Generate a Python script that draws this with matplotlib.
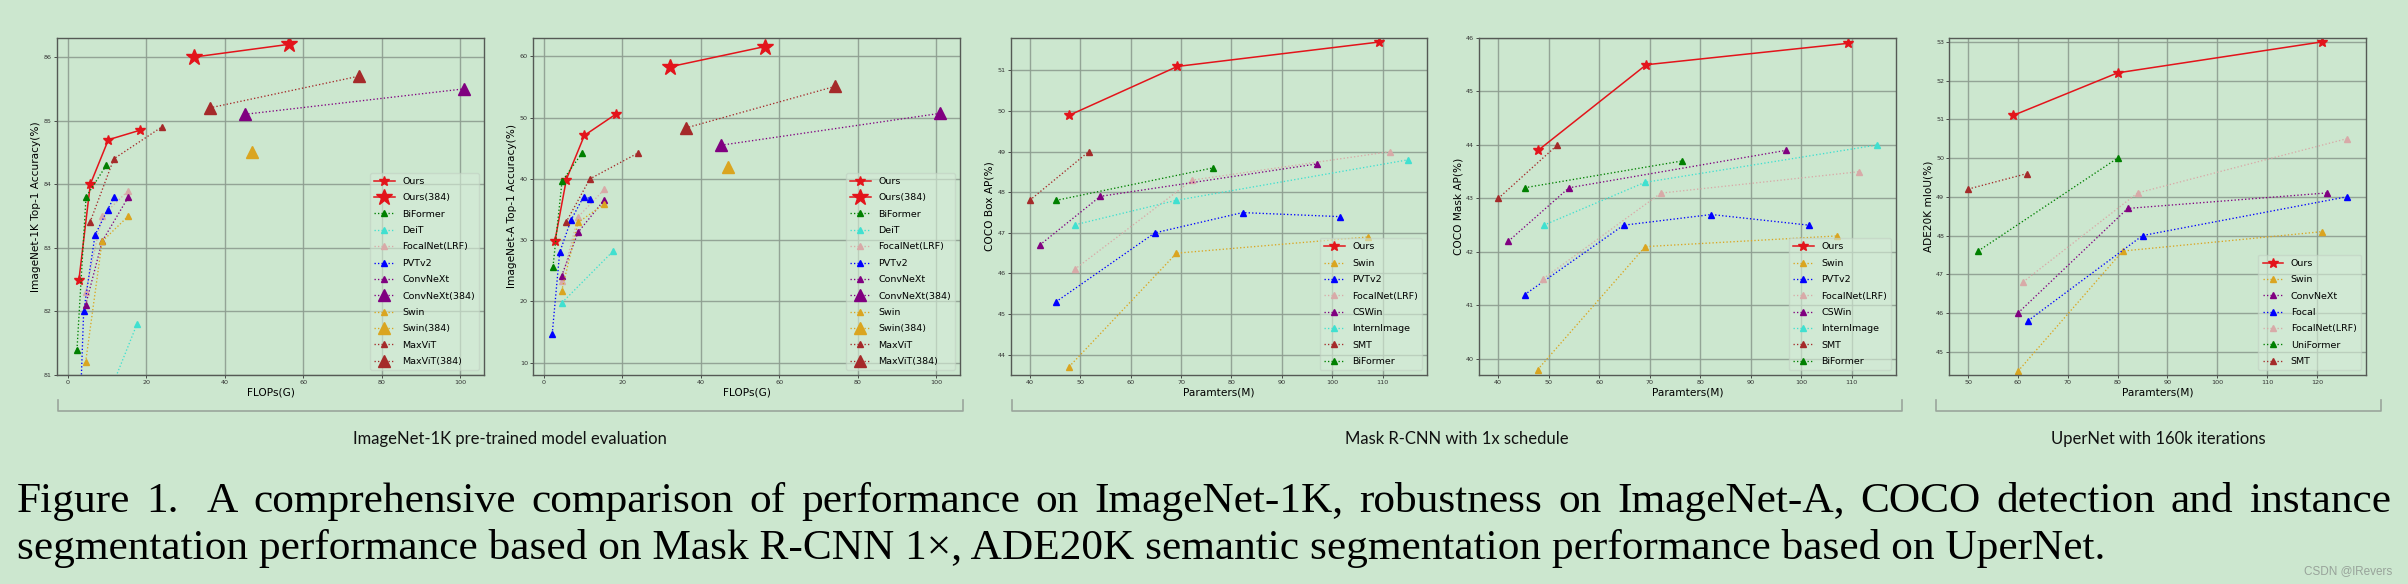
import matplotlib
matplotlib.use('Agg')
import matplotlib.pyplot as plt
from matplotlib.ticker import MultipleLocator
from matplotlib.lines import Line2D

BG = '#cce7cf'
GRID = '#8d9d90'
SPINE = '#555a55'

# ---------------- ImageNet-1K / ImageNet-A data ----------------
ours_flops = [2.8, 5.7, 10.3, 18.4]
ours_in1k = [82.5, 84.0, 84.7, 84.85]
ours_ina = [29.9, 39.9, 47.1, 50.6]
ours384_flops = [32.1, 56.3]
ours384_in1k = [86.0, 86.2]
ours384_ina = [58.3, 61.6]
biformer_flops = [2.3, 4.6, 9.8]
biformer_in1k = [81.4, 83.8, 84.3]
biformer_ina = [25.7, 39.6, 44.3]
deit_flops = [4.6, 17.6]
deit_in1k = [79.8, 81.8]
deit_ina = [19.8, 28.2]
focalnet_flops = [4.5, 8.7, 15.4]
focalnet_in1k = [82.3, 83.5, 83.9]
focalnet_ina = [23.4, 33.8, 38.3]
pvt_flops = [2.1, 4.0, 6.9, 10.1, 11.8]
pvt_in1k = [78.7, 82.0, 83.2, 83.6, 83.8]
pvt_ina = [14.7, 28.0, 33.3, 37.1, 36.8]
convnext_flops = [4.5, 8.7, 15.4]
convnext_in1k = [82.1, 83.1, 83.8]
convnext_ina = [24.2, 31.3, 36.6]
convnext384_flops = [45.1, 101.0]
convnext384_in1k = [85.1, 85.5]
convnext384_ina = [45.5, 50.7]
swin_flops = [4.5, 8.7, 15.4]
swin_in1k = [81.2, 83.1, 83.5]
swin_ina = [21.7, 32.9, 35.9]
swin384_flops = [47.0]
swin384_in1k = [84.5]
swin384_ina = [42.0]
maxvit_flops = [5.6, 11.7, 23.9]
maxvit_in1k = [83.4, 84.4, 84.9]
maxvit_ina = [32.9, 40.0, 44.2]
maxvit384_flops = [36.1, 74.2]
maxvit384_in1k = [85.2, 85.7]
maxvit384_ina = [48.3, 55.1]

# ---------------- COCO (Mask R-CNN 1x) data ----------------
c_ours_p = [47.9, 69.3, 109.2]
c_ours_box = [49.9, 51.1, 51.7]
c_ours_mask = [43.9, 45.5, 45.9]
c_swin_p = [47.8, 69.1, 107.1]
c_swin_box = [43.7, 46.5, 46.9]
c_swin_mask = [39.8, 42.1, 42.3]
c_pvt_p = [45.2, 64.8, 82.2, 101.6]
c_pvt_box = [45.3, 47.0, 47.5, 47.4]
c_pvt_mask = [41.2, 42.5, 42.7, 42.5]
c_focal_p = [48.9, 72.2, 111.4]
c_focal_box = [46.1, 48.3, 49.0]
c_focal_mask = [41.5, 43.1, 43.5]
c_cswin_p = [42.0, 54.0, 97.0]
c_cswin_box = [46.7, 47.9, 48.7]
c_cswin_mask = [42.2, 43.2, 43.9]
c_intern_p = [49.0, 69.0, 115.0]
c_intern_box = [47.2, 47.8, 48.8]
c_intern_mask = [42.5, 43.3, 44.0]
c_smt_p = [40.0, 51.7]
c_smt_box = [47.8, 49.0]
c_smt_mask = [43.0, 44.0]
c_bif_p = [45.2, 76.3]
c_bif_box = [47.8, 48.6]
c_bif_mask = [43.2, 43.7]

# ---------------- ADE20K (UperNet) data ----------------
a_ours_p = [59.0, 80.0, 121.0]
a_ours_miou = [51.1, 52.2, 53.0]
a_swin_p = [60.0, 81.0, 121.0]
a_swin_miou = [44.5, 47.6, 48.1]
a_convnext_p = [60.0, 82.0, 122.0]
a_convnext_miou = [46.0, 48.7, 49.1]
a_focal_p = [62.0, 85.0, 126.0]
a_focal_miou = [45.8, 48.0, 49.0]
a_focalnet_p = [61.0, 84.0, 126.0]
a_focalnet_miou = [46.8, 49.1, 50.5]
a_uni_p = [52.0, 80.0]
a_uni_miou = [47.6, 50.0]
a_smt_p = [50.0, 61.8]
a_smt_miou = [49.2, 49.6]

C_OURS = '#e3141b'
C_BIF = 'green'
C_DEIT = 'turquoise'
C_FOCALNET = '#d8aaa8'
C_PVT = 'blue'
C_CONV = 'purple'
C_SWIN = '#daa520'
C_MAX = 'brown'

W, H = 2408, 584
fig = plt.figure(figsize=(W / 100, H / 100), dpi=100, facecolor=BG)


def make_ax(left, right, top=38, bottom=375):
    ax = fig.add_axes([left / W, 1 - bottom / H, (right - left) / W, (bottom - top) / H])
    ax.set_facecolor(BG)
    ax.set_axisbelow(True)
    ax.grid(True, color=GRID, lw=1.0, alpha=0.9)
    for s in ax.spines.values():
        s.set_color(SPINE)
        s.set_linewidth(1.0)
    ax.tick_params(labelsize=4.6, length=2.2, width=0.6, pad=1.5, colors='#333333')
    return ax


def ours(ax, x, y, label='Ours', ms=7):
    ax.plot(x, y, '-', color=C_OURS, lw=1.1, marker='*', ms=ms, label=label)


def other(ax, x, y, color, label, ms=3.8):
    ax.plot(x, y, ':', color=color, lw=0.95, marker='^', ms=ms, label=label)


def legend(ax):
    ax.legend(loc='lower right', fontsize=6.8, labelspacing=0.78, handlelength=2.2,
              borderpad=0.45, framealpha=0.6, facecolor='#d6ecd8', edgecolor='#c0cfc2')


# ---- Panel 1: ImageNet-1K
ax1 = make_ax(57, 484)
ours(ax1, ours_flops, ours_in1k)
ours(ax1, ours384_flops, ours384_in1k, 'Ours(384)', ms=12)
other(ax1, biformer_flops, biformer_in1k, C_BIF, 'BiFormer')
other(ax1, deit_flops, deit_in1k, C_DEIT, 'DeiT')
other(ax1, focalnet_flops, focalnet_in1k, C_FOCALNET, 'FocalNet(LRF)')
other(ax1, pvt_flops, pvt_in1k, C_PVT, 'PVTv2')
other(ax1, convnext_flops, convnext_in1k, C_CONV, 'ConvNeXt')
other(ax1, convnext384_flops, convnext384_in1k, C_CONV, 'ConvNeXt(384)', ms=8.5)
other(ax1, swin_flops, swin_in1k, C_SWIN, 'Swin')
other(ax1, swin384_flops, swin384_in1k, C_SWIN, 'Swin(384)', ms=8.5)
other(ax1, maxvit_flops, maxvit_in1k, C_MAX, 'MaxViT')
other(ax1, maxvit384_flops, maxvit384_in1k, C_MAX, 'MaxViT(384)', ms=8.5)
ax1.set_xlim(-2.8, 106.1)
ax1.set_ylim(81, 86.3)
ax1.xaxis.set_major_locator(MultipleLocator(20))
ax1.yaxis.set_major_locator(MultipleLocator(1))
ax1.set_xlabel('FLOPs(G)', fontsize=7.6, labelpad=1.5)
ax1.set_ylabel('ImageNet-1K Top-1 Accuracy(%)', fontsize=7.6, labelpad=2)
legend(ax1)

# ---- Panel 2: ImageNet-A
ax2 = make_ax(533, 960)
ours(ax2, ours_flops, ours_ina)
ours(ax2, ours384_flops, ours384_ina, 'Ours(384)', ms=12)
other(ax2, biformer_flops, biformer_ina, C_BIF, 'BiFormer')
other(ax2, deit_flops, deit_ina, C_DEIT, 'DeiT')
other(ax2, focalnet_flops, focalnet_ina, C_FOCALNET, 'FocalNet(LRF)')
other(ax2, pvt_flops, pvt_ina, C_PVT, 'PVTv2')
other(ax2, convnext_flops, convnext_ina, C_CONV, 'ConvNeXt')
other(ax2, convnext384_flops, convnext384_ina, C_CONV, 'ConvNeXt(384)', ms=8.5)
other(ax2, swin_flops, swin_ina, C_SWIN, 'Swin')
other(ax2, swin384_flops, swin384_ina, C_SWIN, 'Swin(384)', ms=8.5)
other(ax2, maxvit_flops, maxvit_ina, C_MAX, 'MaxViT')
other(ax2, maxvit384_flops, maxvit384_ina, C_MAX, 'MaxViT(384)', ms=8.5)
ax2.set_xlim(-2.8, 106.1)
ax2.set_ylim(8.0, 63.0)
ax2.xaxis.set_major_locator(MultipleLocator(20))
ax2.yaxis.set_major_locator(MultipleLocator(10))
ax2.set_xlabel('FLOPs(G)', fontsize=7.6, labelpad=1.5)
ax2.set_ylabel('ImageNet-A Top-1 Accuracy(%)', fontsize=7.6, labelpad=2)
legend(ax2)

# ---- Panel 3 & 4: COCO
coco_series = [
    ('Swin', C_SWIN, c_swin_p, c_swin_box, c_swin_mask),
    ('PVTv2', C_PVT, c_pvt_p, c_pvt_box, c_pvt_mask),
    ('FocalNet(LRF)', C_FOCALNET, c_focal_p, c_focal_box, c_focal_mask),
    ('CSWin', C_CONV, c_cswin_p, c_cswin_box, c_cswin_mask),
    ('InternImage', C_DEIT, c_intern_p, c_intern_box, c_intern_mask),
    ('SMT', C_MAX, c_smt_p, c_smt_box, c_smt_mask),
    ('BiFormer', C_BIF, c_bif_p, c_bif_box, c_bif_mask),
]
ax3 = make_ax(1010.7, 1427)
ours(ax3, c_ours_p, c_ours_box)
for name, col, p, box, mask in coco_series:
    other(ax3, p, box, col, name)
ax3.set_xlim(36.25, 118.75)
ax3.set_ylim(43.5, 51.8)
ax3.xaxis.set_major_locator(MultipleLocator(10))
ax3.yaxis.set_major_locator(MultipleLocator(1))
ax3.set_xlabel('Paramters(M)', fontsize=7.6, labelpad=1.5)
ax3.set_ylabel('COCO Box AP(%)', fontsize=7.6, labelpad=2)
legend(ax3)

ax4 = make_ax(1479.3, 1896)
ours(ax4, c_ours_p, c_ours_mask)
for name, col, p, box, mask in coco_series:
    other(ax4, p, mask, col, name)
ax4.set_xlim(36.25, 118.75)
ax4.set_ylim(39.7, 46.0)
ax4.xaxis.set_major_locator(MultipleLocator(10))
ax4.yaxis.set_major_locator(MultipleLocator(1))
ax4.set_xlabel('Paramters(M)', fontsize=7.6, labelpad=1.5)
ax4.set_ylabel('COCO Mask AP(%)', fontsize=7.6, labelpad=2)
legend(ax4)

# ---- Panel 5: ADE20K
ax5 = make_ax(1949.3, 2365.7)
ours(ax5, a_ours_p, a_ours_miou)
other(ax5, a_swin_p, a_swin_miou, C_SWIN, 'Swin')
other(ax5, a_convnext_p, a_convnext_miou, C_CONV, 'ConvNeXt')
other(ax5, a_focal_p, a_focal_miou, C_PVT, 'Focal')
other(ax5, a_focalnet_p, a_focalnet_miou, C_FOCALNET, 'FocalNet(LRF)')
other(ax5, a_uni_p, a_uni_miou, C_BIF, 'UniFormer')
other(ax5, a_smt_p, a_smt_miou, C_MAX, 'SMT')
ax5.set_xlim(46.2, 129.8)
ax5.set_ylim(44.4, 53.1)
ax5.xaxis.set_major_locator(MultipleLocator(10))
ax5.yaxis.set_major_locator(MultipleLocator(1))
ax5.set_xlabel('Paramters(M)', fontsize=7.6, labelpad=1.5)
ax5.set_ylabel('ADE20K mIoU(%)', fontsize=7.6, labelpad=2)
legend(ax5)

# ---- Group brackets
BR = '#9aa69c'


def bracket(x0, x1, text, xc):
    y_top, y_bot = 400, 411
    fig.add_artist(Line2D([x0 / W, x0 / W, x1 / W, x1 / W],
                          [1 - y_top / H, 1 - y_bot / H, 1 - y_bot / H, 1 - y_top / H],
                          color=BR, lw=1.2, transform=fig.transFigure))
    fig.text(xc / W, 1 - 439 / H, text, ha='center', va='center', fontsize=12,
             family='Lato', color='#111111')


bracket(58, 963, 'ImageNet-1K pre-trained model evaluation', 510)
bracket(1011.7, 1902, 'Mask R-CNN with 1x schedule', 1457)
bracket(1936, 2381, 'UperNet with 160k iterations', 2158)

# ---- Caption (line 1 justified)
line1 = ('Figure 1.  A comprehensive comparison of performance on ImageNet-1K, robustness on '
         'ImageNet-A, COCO detection and instance')
line2 = ('segmentation performance based on Mask R-CNN 1\u00d7, ADE20K semantic segmentation '
         'performance based on UperNet.')
CAP_FS = 31.2
x_left, x_right = 17, 2391
fig.canvas.draw()
r = fig.canvas.get_renderer()
words = [w for w in line1.split(' ') if w]
tw = [fig.text(0, 1 - 512 / H, w, fontsize=CAP_FS, family='Liberation Serif',
               va='baseline', ha='left', color='black') for w in words]
widths = [t.get_window_extent(r).width for t in tw]
extra = [0.0] * len(words)
extra[1] = 12.0  # wider space after "Figure 1."
gap = (x_right - x_left - sum(widths) - sum(extra)) / (len(words) - 1)
x = x_left
for i, (t, wd) in enumerate(zip(tw, widths)):
    t.set_x(x / W)
    x += wd + gap + extra[i]
fig.text(x_left / W, 1 - 559 / H, line2, fontsize=CAP_FS, family='Liberation Serif',
         va='baseline', ha='left', color='black')

fig.text(2392 / W, 1 - 571 / H, 'CSDN @lRevers', fontsize=8.5, family='Liberation Sans',
         ha='right', va='center', color='#98a39a')

fig.savefig('out.png', dpi=100, facecolor=BG)
